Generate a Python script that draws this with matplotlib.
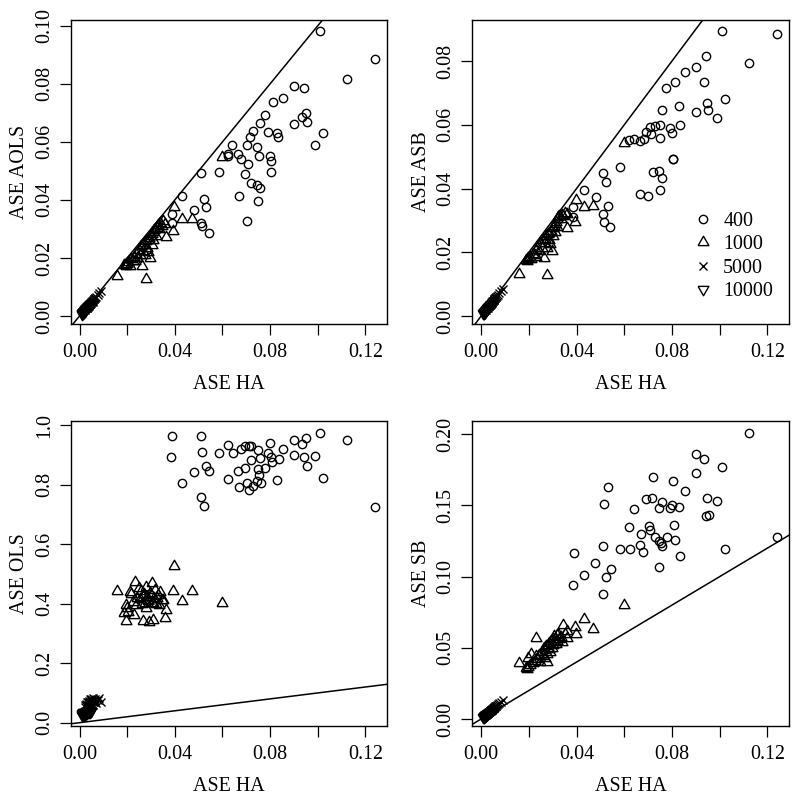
import matplotlib
matplotlib.use('Agg')
import matplotlib.pyplot as plt

plt.rcParams['font.family'] = ['Liberation Serif', 'DejaVu Serif']
FS = 14.4

# ---------------- data ----------------
group_labels = ["400", "1000", "5000", "10000"]

# n = 400 (circles), per panel
p1_ha_400 = [0.0389, 0.0390, 0.0432, 0.0481, 0.0509, 0.0512, 0.0516, 0.0524, 0.0530, 0.0542,
             0.0586, 0.0623, 0.0623, 0.0642, 0.0665, 0.0669, 0.0679, 0.0693, 0.0702, 0.0704,
             0.0709, 0.0716, 0.0720, 0.0730, 0.0746, 0.0746, 0.0748, 0.0752, 0.0759, 0.0759,
             0.0777, 0.0791, 0.0801, 0.0804, 0.0805, 0.0811, 0.0830, 0.0834, 0.0854, 0.0901,
             0.0901, 0.0935, 0.0943, 0.0949, 0.0953, 0.0990, 0.1009, 0.1024, 0.1121, 0.1241]
p1_aols_400 = [0.0320, 0.0351, 0.0412, 0.0366, 0.0322, 0.0493, 0.0309, 0.0404, 0.0375, 0.0286,
               0.0496, 0.0557, 0.0550, 0.0591, 0.0557, 0.0414, 0.0540, 0.0490, 0.0328, 0.0590,
               0.0524, 0.0618, 0.0458, 0.0639, 0.0582, 0.0453, 0.0396, 0.0550, 0.0664, 0.0442,
               0.0694, 0.0633, 0.0553, 0.0535, 0.0495, 0.0736, 0.0629, 0.0616, 0.0750, 0.0793,
               0.0660, 0.0686, 0.0787, 0.0699, 0.0668, 0.0589, 0.0981, 0.0629, 0.0817, 0.0885]

p2_ha_400 = [0.1010, 0.1242, 0.1122, 0.0943, 0.0901, 0.0854, 0.0811, 0.0777, 0.0936, 0.0830,
             0.0760, 0.0948, 0.0953, 0.0901, 0.1024, 0.0990, 0.0834, 0.0749, 0.0731, 0.0706,
             0.0692, 0.0714, 0.0681, 0.0667, 0.0642, 0.0622, 0.0752, 0.0791, 0.0801, 0.0806,
             0.0803, 0.0584, 0.0512, 0.0524, 0.0720, 0.0746, 0.0759, 0.0748, 0.0668, 0.0700,
             0.0432, 0.0481, 0.0531, 0.0509, 0.0516, 0.0542, 0.0387, 0.0384]
p2_asb_400 = [0.0894, 0.0884, 0.0795, 0.0816, 0.0780, 0.0767, 0.0736, 0.0716, 0.0736, 0.0659,
              0.0645, 0.0667, 0.0646, 0.0639, 0.0680, 0.0620, 0.0599, 0.0600, 0.0596, 0.0593,
              0.0578, 0.0570, 0.0555, 0.0550, 0.0555, 0.0552, 0.0559, 0.0590, 0.0573, 0.0494,
              0.0494, 0.0468, 0.0450, 0.0420, 0.0453, 0.0456, 0.0434, 0.0395, 0.0382, 0.0376,
              0.0397, 0.0373, 0.0344, 0.0319, 0.0295, 0.0278, 0.0341, 0.0312]

p3_ha_400 = [0.0386, 0.0390, 0.0432, 0.0481, 0.0509, 0.0512, 0.0516, 0.0524, 0.0530, 0.0542,
             0.0586, 0.0623, 0.0623, 0.0643, 0.0665, 0.0669, 0.0679, 0.0693, 0.0696, 0.0704,
             0.0710, 0.0710, 0.0718, 0.0721, 0.0730, 0.0746, 0.0748, 0.0749, 0.0752, 0.0759,
             0.0762, 0.0778, 0.0791, 0.0799, 0.0805, 0.0809, 0.0830, 0.0836, 0.0854, 0.0901,
             0.0901, 0.0935, 0.0943, 0.0949, 0.0953, 0.0990, 0.1009, 0.1024, 0.1121, 0.1241]
p3_ols_400 = [0.8919, 0.9636, 0.8056, 0.8426, 0.9636, 0.7574, 0.9109, 0.7294, 0.8627, 0.8471,
              0.9064, 0.9345, 0.8202, 0.9053, 0.8459, 0.7933, 0.9210, 0.8549, 0.9300, 0.8045,
              0.9311, 0.7810, 0.9300, 0.8818, 0.7944, 0.8134, 0.8515, 0.9154, 0.8336, 0.8908,
              0.8056, 0.8560, 0.9053, 0.9400, 0.8919, 0.8773, 0.8146, 0.8863, 0.9188, 0.9513,
              0.8986, 0.9356, 0.8941, 0.9580, 0.8627, 0.8964, 0.9748, 0.8235, 0.9513, 0.7238]

p4_ha_400 = [0.1122, 0.0901, 0.0936, 0.1009, 0.0901, 0.0720, 0.0804, 0.0530, 0.0854, 0.0692,
             0.0717, 0.0948, 0.0990, 0.0759, 0.0746, 0.0791, 0.0802, 0.0830, 0.0514, 0.0642,
             0.0943, 0.0955, 0.0808, 0.0621, 0.0702, 0.0706, 0.0669, 0.0728, 0.0778, 0.0811,
             0.0746, 0.0755, 0.0760, 0.0665, 0.0679, 0.0623, 0.0584, 0.0509, 0.0834, 0.1024,
             0.1242, 0.0389, 0.0479, 0.0544, 0.0430, 0.0524, 0.0386, 0.0510, 0.0746]
p4_sb_400 = [0.2011, 0.1859, 0.1828, 0.1772, 0.1725, 0.1699, 0.1669, 0.1627, 0.1603, 0.1547,
             0.1552, 0.1552, 0.1533, 0.1526, 0.1482, 0.1479, 0.1505, 0.1489, 0.1512, 0.1472,
             0.1426, 0.1435, 0.1362, 0.1346, 0.1355, 0.1325, 0.1299, 0.1276, 0.1276, 0.1257,
             0.1252, 0.1234, 0.1215, 0.1220, 0.1170, 0.1194, 0.1194, 0.1215, 0.1147, 0.1194,
             0.1276, 0.1168, 0.1098, 0.1056, 0.1014, 0.0995, 0.0939, 0.0880, 0.1067]

# n = 1000 (triangles), shared ASE HA
ha_1000 = [0.0157, 0.0187, 0.0194, 0.0196, 0.0198, 0.0205, 0.0211, 0.0218, 0.0224, 0.0229,
           0.0231, 0.0236, 0.0242, 0.0248, 0.0254, 0.0258, 0.0263, 0.0266, 0.0268, 0.0271,
           0.0275, 0.0277, 0.0280, 0.0283, 0.0286, 0.0289, 0.0293, 0.0296, 0.0300, 0.0303,
           0.0305, 0.0308, 0.0310, 0.0313, 0.0317, 0.0320, 0.0324, 0.0328, 0.0333, 0.0338,
           0.0345, 0.0352, 0.0359, 0.0361, 0.0394, 0.0398, 0.0432, 0.0471, 0.0600]
aols_1000 = [0.0138, 0.0175, 0.0178, 0.0172, 0.0180, 0.0185, 0.0174, 0.0196, 0.0190, 0.0205,
             0.0188, 0.0215, 0.0200, 0.0228, 0.0210, 0.0240, 0.0174, 0.0245, 0.0225, 0.0252,
             0.0210, 0.0126, 0.0258, 0.0236, 0.0262, 0.0222, 0.0270, 0.0199, 0.0276, 0.0245,
             0.0282, 0.0290, 0.0262, 0.0296, 0.0300, 0.0275, 0.0305, 0.0312, 0.0300, 0.0320,
             0.0310, 0.0328, 0.0318, 0.0272, 0.0293, 0.0374, 0.0334, 0.0334, 0.0548]
asb_1000 = [0.0132, 0.0176, 0.0172, 0.0178, 0.0182, 0.0186, 0.0178, 0.0195, 0.0192, 0.0208,
            0.0186, 0.0212, 0.0205, 0.0230, 0.0215, 0.0238, 0.0182, 0.0242, 0.0228, 0.0250,
            0.0215, 0.0128, 0.0256, 0.0240, 0.0262, 0.0225, 0.0268, 0.0205, 0.0275, 0.0250,
            0.0284, 0.0290, 0.0265, 0.0295, 0.0305, 0.0280, 0.0310, 0.0315, 0.0305, 0.0318,
            0.0315, 0.0322, 0.0320, 0.0277, 0.0296, 0.0364, 0.0343, 0.0346, 0.0544]
ols_1000 = [0.444, 0.368, 0.342, 0.395, 0.384, 0.372, 0.438, 0.433, 0.407, 0.362,
            0.473, 0.395, 0.420, 0.452, 0.415, 0.441, 0.398, 0.422, 0.342, 0.432,
            0.401, 0.384, 0.455, 0.424, 0.410, 0.412, 0.340, 0.435, 0.428, 0.403,
            0.471, 0.344, 0.403, 0.420, 0.445, 0.400, 0.418, 0.430, 0.395, 0.440,
            0.412, 0.412, 0.351, 0.379, 0.441, 0.526, 0.409, 0.443, 0.403]
sb_1000 = [0.0391, 0.0360, 0.0349, 0.0365, 0.0430, 0.0380, 0.0460, 0.0395, 0.0410, 0.0440,
           0.0569, 0.0420, 0.0450, 0.0400, 0.0470, 0.0440, 0.0500, 0.0430, 0.0485, 0.0510,
           0.0455, 0.0400, 0.0520, 0.0490, 0.0535, 0.0470, 0.0545, 0.0500, 0.0560, 0.0520,
           0.0580, 0.0540, 0.0565, 0.0530, 0.0590, 0.0550, 0.0600, 0.0560, 0.0575, 0.0540,
           0.0658, 0.0600, 0.0570, 0.0620, 0.0648, 0.0600, 0.0700, 0.0634, 0.0801]

# n = 5000 (crosses), shared ASE HA
ha_5000 = [0.0021, 0.0025, 0.0028, 0.0030, 0.0032, 0.0034, 0.0035, 0.0037, 0.0038, 0.0040,
           0.0041, 0.0043, 0.0044, 0.0046, 0.0047, 0.0049, 0.0050, 0.0052, 0.0053, 0.0055,
           0.0056, 0.0058, 0.0060, 0.0062, 0.0064, 0.0067, 0.0071, 0.0076, 0.0083, 0.0090]
aols_5000 = [0.0020, 0.0023, 0.0026, 0.0029, 0.0029, 0.0032, 0.0033, 0.0034, 0.0036, 0.0037,
             0.0039, 0.0040, 0.0042, 0.0042, 0.0045, 0.0045, 0.0048, 0.0048, 0.0051, 0.0050,
             0.0054, 0.0053, 0.0057, 0.0058, 0.0061, 0.0062, 0.0067, 0.0071, 0.0078, 0.0086]
asb_5000 = [0.0019, 0.0024, 0.0026, 0.0028, 0.0030, 0.0031, 0.0034, 0.0035, 0.0035, 0.0038,
            0.0038, 0.0041, 0.0041, 0.0044, 0.0044, 0.0047, 0.0046, 0.0050, 0.0050, 0.0053,
            0.0052, 0.0056, 0.0056, 0.0059, 0.0060, 0.0064, 0.0066, 0.0072, 0.0079, 0.0085]
ols_5000 = [0.058, 0.052, 0.063, 0.055, 0.068, 0.060, 0.071, 0.057, 0.065, 0.074,
            0.062, 0.069, 0.078, 0.059, 0.072, 0.066, 0.081, 0.064, 0.075, 0.070,
            0.083, 0.061, 0.077, 0.068, 0.073, 0.079, 0.066, 0.075, 0.082, 0.070]
sb_5000 = [0.0031, 0.0037, 0.0042, 0.0043, 0.0048, 0.0049, 0.0052, 0.0053, 0.0057, 0.0058,
           0.0061, 0.0062, 0.0066, 0.0066, 0.0070, 0.0071, 0.0074, 0.0075, 0.0078, 0.0080,
           0.0082, 0.0084, 0.0088, 0.0090, 0.0093, 0.0097, 0.0103, 0.0110, 0.0120, 0.0131]

# n = 10000 (inverted triangles), shared ASE HA
ha_10000 = [0.0009, 0.0011, 0.0012, 0.0013, 0.0014, 0.0015, 0.0016, 0.0017, 0.0018, 0.0019,
            0.0020, 0.0021, 0.0022, 0.0023, 0.0024, 0.0025, 0.0026, 0.0028, 0.0030, 0.0033,
            0.0036, 0.0040, 0.0045, 0.0050]
aols_10000 = [0.0008, 0.0010, 0.0011, 0.0012, 0.0013, 0.0014, 0.0015, 0.0015, 0.0017, 0.0017,
              0.0019, 0.0019, 0.0021, 0.0021, 0.0022, 0.0024, 0.0024, 0.0026, 0.0028, 0.0031,
              0.0033, 0.0037, 0.0041, 0.0046]
asb_10000 = [0.0009, 0.0010, 0.0011, 0.0012, 0.0013, 0.0014, 0.0014, 0.0016, 0.0016, 0.0018,
             0.0018, 0.0020, 0.0020, 0.0022, 0.0022, 0.0023, 0.0025, 0.0026, 0.0028, 0.0030,
             0.0034, 0.0037, 0.0042, 0.0047]
ols_10000 = [0.028, 0.031, 0.026, 0.033, 0.029, 0.035, 0.030, 0.027, 0.034, 0.032,
             0.037, 0.029, 0.031, 0.036, 0.033, 0.030, 0.038, 0.034, 0.032, 0.036,
             0.039, 0.035, 0.037, 0.040]
sb_10000 = [0.0013, 0.0016, 0.0017, 0.0019, 0.0021, 0.0022, 0.0024, 0.0025, 0.0026, 0.0028,
            0.0029, 0.0031, 0.0032, 0.0034, 0.0035, 0.0037, 0.0038, 0.0041, 0.0044, 0.0048,
            0.0052, 0.0058, 0.0065, 0.0072]

x_ticks = [0.00, 0.02, 0.04, 0.06, 0.08, 0.10, 0.12]
x_ticklabels = ["0.00", "", "0.04", "", "0.08", "", "0.12"]
p1_yticks = [0.00, 0.02, 0.04, 0.06, 0.08, 0.10]
p1_yticklabels = ["0.00", "0.02", "0.04", "0.06", "0.08", "0.10"]
p2_yticks = [0.00, 0.02, 0.04, 0.06, 0.08]
p2_yticklabels = ["0.00", "0.02", "0.04", "0.06", "0.08"]
p3_yticks = [0.0, 0.2, 0.4, 0.6, 0.8, 1.0]
p3_yticklabels = ["0.0", "0.2", "0.4", "0.6", "0.8", "1.0"]
p4_yticks = [0.00, 0.05, 0.10, 0.15, 0.20]
p4_yticklabels = ["0.00", "0.05", "0.10", "0.15", "0.20"]

# ---------------- styling ----------------
TRI_UP = [(-1.0, -0.577), (1.0, -0.577), (0.0, 1.155), (-1.0, -0.577)]
TRI_DN = [(x, -y) for x, y in TRI_UP]
MEW = 1.0
styles = [
    dict(marker='o', ms=6.0),
    dict(marker=TRI_UP, ms=9.0),
    dict(marker='x', ms=6.0),
    dict(marker=TRI_DN, ms=9.0),
]

fig = plt.figure(figsize=(8.0, 7.99), dpi=100)
W, H = 800.0, 799.0


def add_axes(l, t, r, b):
    return fig.add_axes([l / W, 1 - b / H, (r - l) / W, (b - t) / H])


def draw_panel(ax, series, ylim, yticks, yticklabels, ylabel):
    for (xs, ys), st, lab in zip(series, styles, group_labels):
        ax.plot(xs, ys, linestyle='none', marker=st['marker'], markersize=st['ms'],
                markerfacecolor='none', markeredgecolor='black', markeredgewidth=MEW,
                label=lab)
    ax.axline((0, 0), slope=1, color='black', lw=1.1)
    ax.set_xlim(-0.0037, 0.1292)
    ax.set_ylim(*ylim)
    ax.set_xticks(x_ticks)
    ax.set_xticklabels(x_ticklabels)
    ax.set_yticks(yticks)
    ax.set_yticklabels(yticklabels)
    for lbl in ax.get_yticklabels():
        lbl.set_rotation(90)
        lbl.set_va('center')
    ax.tick_params(direction='out', length=8, width=0.9, labelsize=FS, color='black')
    ax.tick_params(axis='x', pad=6)
    ax.tick_params(axis='y', pad=4)
    for sp in ax.spines.values():
        sp.set_linewidth(1.0)
        sp.set_color('black')
    ax.set_xlabel("ASE HA", fontsize=FS, labelpad=9)
    ax.set_ylabel(ylabel, fontsize=FS, labelpad=4)


ax1 = add_axes(70.7, 20, 387.3, 324)
ax2 = add_axes(472.3, 20, 789.3, 324)
ax3 = add_axes(70.7, 421, 387.3, 725.7)
ax4 = add_axes(472.3, 421, 789.3, 726)

draw_panel(ax1, [(p1_ha_400, p1_aols_400), (ha_1000, aols_1000), (ha_5000, aols_5000),
                 (ha_10000, aols_10000)],
           (-0.00275, 0.1020), p1_yticks, p1_yticklabels, "ASE AOLS")
draw_panel(ax2, [(p2_ha_400, p2_asb_400), (ha_1000, asb_1000), (ha_5000, asb_5000),
                 (ha_10000, asb_10000)],
           (-0.0025, 0.0929), p2_yticks, p2_yticklabels, "ASE ASB")
draw_panel(ax3, [(p3_ha_400, p3_ols_400), (ha_1000, ols_1000), (ha_5000, ols_5000),
                 (ha_10000, ols_10000)],
           (-0.0101, 1.0141), p3_yticks, p3_yticklabels, "ASE OLS")
draw_panel(ax4, [(p4_ha_400, p4_sb_400), (ha_1000, sb_1000), (ha_5000, sb_5000),
                 (ha_10000, sb_10000)],
           (-0.0049, 0.2093), p4_yticks, p4_yticklabels, "ASE SB")

ax2.legend(loc='upper left', bbox_to_anchor=(0.697, 0.369), frameon=False,
           fontsize=FS, handlelength=1.0, handletextpad=0.5, borderpad=0.0,
           borderaxespad=0.0, labelspacing=0.22)

fig.savefig('out.png', dpi=100)
